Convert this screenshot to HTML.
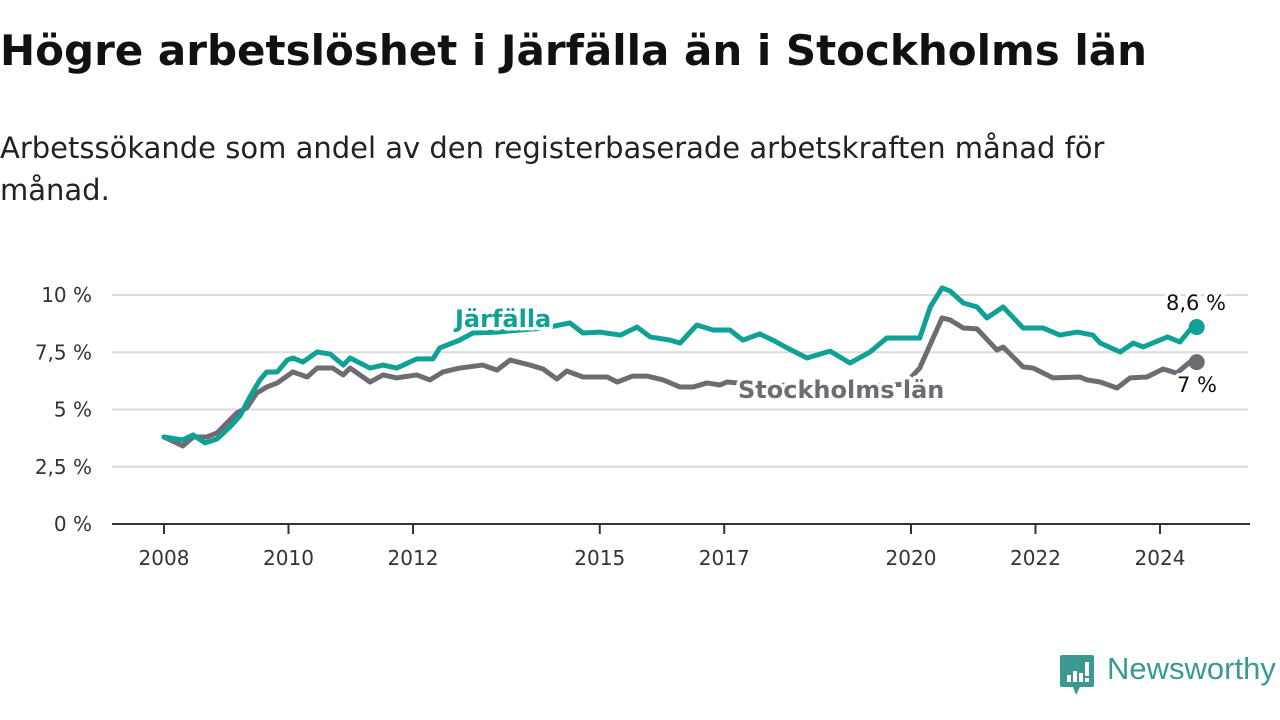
<!DOCTYPE html>
<html><head><meta charset="utf-8">
<style>
body{margin:0;background:#fff;width:1280px;height:720px;overflow:hidden;font-family:"DejaVu Sans","Liberation Sans",sans-serif;position:relative}
#title{position:absolute;left:0;top:26px;font-size:42px;font-weight:bold;color:#111;margin:0;white-space:nowrap}
#sub{position:absolute;left:0;top:127px;width:1180px;font-size:29px;line-height:42px;color:#222;margin:0}
svg{position:absolute;left:0;top:0}
</style></head><body>
<h1 id="title">Högre arbetslöshet i Järfälla än i Stockholms län</h1>
<p id="sub">Arbetssökande som andel av den registerbaserade arbetskraften månad för månad.</p>
<svg id="chart" width="1280" height="720"></svg>
<div style="position:absolute;left:1060px;top:655px;">
 <svg width="34" height="42" style="position:absolute;left:0;top:0">
  <path d="M2 0H32Q34 0 34 2V30Q34 32 32 32H20L16 40L13 32H2Q0 32 0 30V2Q0 0 2 0Z" fill="#3a9a92"/>
  <rect x="7" y="20" width="4" height="7" fill="#fff"/><rect x="13" y="16" width="4" height="11" fill="#fff"/><rect x="19" y="18" width="4" height="9" fill="#fff"/><rect x="25" y="7" width="4" height="14" fill="#fff"/><rect x="25" y="23" width="4" height="4" fill="#fff"/>
 </svg>
 <span style="position:absolute;left:47px;top:-4px;font-family:'Liberation Sans',sans-serif;font-size:31px;color:#3a9a92;white-space:nowrap">Newsworthy</span>
</div>
<script>
const yTicks=[0,2.5,5,7.5,10];
const yTickLabels=["0 %","2,5 %","5 %","7,5 %","10 %"];
const xTicks=[2008,2010,2012,2015,2017,2020,2022,2024];
const jarDates=[2008.0,2008.3,2008.47,2008.66,2008.85,2009.06,2009.22,2009.38,2009.54,2009.65,2009.82,2009.98,2010.07,2010.23,2010.46,2010.67,2010.88,2010.99,2011.31,2011.52,2011.74,2012.06,2012.32,2012.43,2012.75,2012.96,2013.35,2013.72,2014.12,2014.52,2014.73,2015.0,2015.33,2015.6,2015.81,2016.13,2016.29,2016.56,2016.82,2017.09,2017.3,2017.57,2017.78,2018.01,2018.33,2018.7,2019.02,2019.34,2019.61,2019.94,2020.14,2020.31,2020.5,2020.63,2020.84,2021.06,2021.22,2021.48,2021.8,2022.12,2022.39,2022.67,2022.92,2023.04,2023.36,2023.57,2023.73,2024.12,2024.32,2024.48,2024.59];
const jarValues=[3.8,3.67,3.89,3.54,3.71,4.24,4.72,5.55,6.29,6.64,6.64,7.16,7.25,7.07,7.51,7.42,6.94,7.25,6.81,6.94,6.81,7.21,7.21,7.69,8.03,8.34,8.38,8.47,8.56,8.78,8.34,8.38,8.25,8.6,8.17,8.03,7.9,8.69,8.47,8.47,8.03,8.3,8.03,7.69,7.25,7.55,7.03,7.51,8.12,8.12,8.12,9.48,10.31,10.17,9.65,9.48,9.0,9.48,8.56,8.56,8.25,8.38,8.25,7.9,7.51,7.9,7.73,8.17,7.95,8.47,8.6];
const sthDates=[2008.0,2008.3,2008.47,2008.69,2008.85,2009.17,2009.33,2009.49,2009.65,2009.82,2010.07,2010.3,2010.46,2010.71,2010.88,2010.99,2011.31,2011.52,2011.74,2012.06,2012.27,2012.48,2012.75,2013.12,2013.35,2013.56,2013.88,2014.09,2014.31,2014.47,2014.73,2015.12,2015.28,2015.53,2015.76,2016.02,2016.29,2016.5,2016.72,2016.93,2017.04,2017.5,2018.0,2018.5,2019.0,2019.5,2019.9,2020.14,2020.5,2020.63,2020.84,2021.06,2021.38,2021.48,2021.8,2021.96,2022.28,2022.71,2022.83,2023.04,2023.31,2023.52,2023.79,2024.05,2024.27,2024.48,2024.59];
const sthValues=[3.8,3.41,3.8,3.8,3.97,4.85,5.07,5.72,5.98,6.16,6.64,6.42,6.81,6.81,6.51,6.81,6.2,6.51,6.38,6.51,6.29,6.64,6.81,6.94,6.72,7.16,6.94,6.77,6.33,6.68,6.42,6.42,6.2,6.46,6.46,6.29,5.98,5.98,6.16,6.07,6.2,6.1,6.05,6.0,5.95,6.05,6.1,6.81,9.0,8.91,8.56,8.52,7.6,7.73,6.86,6.81,6.38,6.42,6.29,6.2,5.94,6.38,6.42,6.77,6.59,7.07,7.07];
const NS="http://www.w3.org/2000/svg";
const svg=document.getElementById('chart');
const X=t=>164+(t-2008)*62.25;
const Y=v=>524-v*22.9;
function mk(tag,attrs,parent){const e=document.createElementNS(NS,tag);for(const k in attrs)e.setAttribute(k,attrs[k]);(parent||svg).appendChild(e);return e;}
yTicks.forEach((v,i)=>{
  if(v>0){const g=mk('line',{x1:112,x2:1248,y1:Y(v),y2:Y(v),stroke:'#dcdcdc','stroke-width':2});
  
  }
  const t=mk('text',{x:92,y:Y(v)+7,'text-anchor':'end','font-size':20,fill:'#333'});
  t.textContent=yTickLabels[i];
  
  
});
xTicks.forEach(yr=>{
  const l=mk('line',{x1:X(yr),x2:X(yr),y1:524,y2:534,stroke:'#333','stroke-width':2});
  
  
  const t=mk('text',{x:X(yr),y:565,'text-anchor':'middle','font-size':20,fill:'#333'});
  t.textContent=yr;
  
  
});
const base=mk('line',{x1:112,x2:1250,y1:524,y2:524,stroke:'#333','stroke-width':2});


function series(d,v,col,name){
  const p=mk('polyline',{points:d.map((t,i)=>X(t)+','+Y(v[i])).join(' '),fill:'none',stroke:col,'stroke-width':5,'stroke-linejoin':'round','stroke-linecap':'round'});
  
  
  const c=mk('circle',{cx:X(d[d.length-1]),cy:Y(v[v.length-1]),r:8,fill:col});
  
  
}
series(sthDates,sthValues,'#6e6c72','stockholm');
series(jarDates,jarValues,'#0fa195','jarfalla');
function lab(x,y,txt,col,sz,bold,anchor,name){
  const t=mk('text',{x:x,y:y,'font-size':sz,'font-weight':bold?'bold':'normal',fill:col,'text-anchor':anchor,stroke:'#fff','stroke-width':7,'paint-order':'stroke','stroke-linejoin':'round'});
  t.textContent=txt;
  
  
}
lab(455,327,'Järfälla','#0fa195',24,true,'start','jarfalla-label');
lab(738,398,'Stockholms län','#6e6c72',24,true,'start','stockholm-label');
lab(1196,310,'8,6 %','#111',21,false,'middle','jarfalla-value-label');
lab(1197,392,'7 %','#111',21,false,'middle','stockholm-value-label');
</script>
</body></html>
